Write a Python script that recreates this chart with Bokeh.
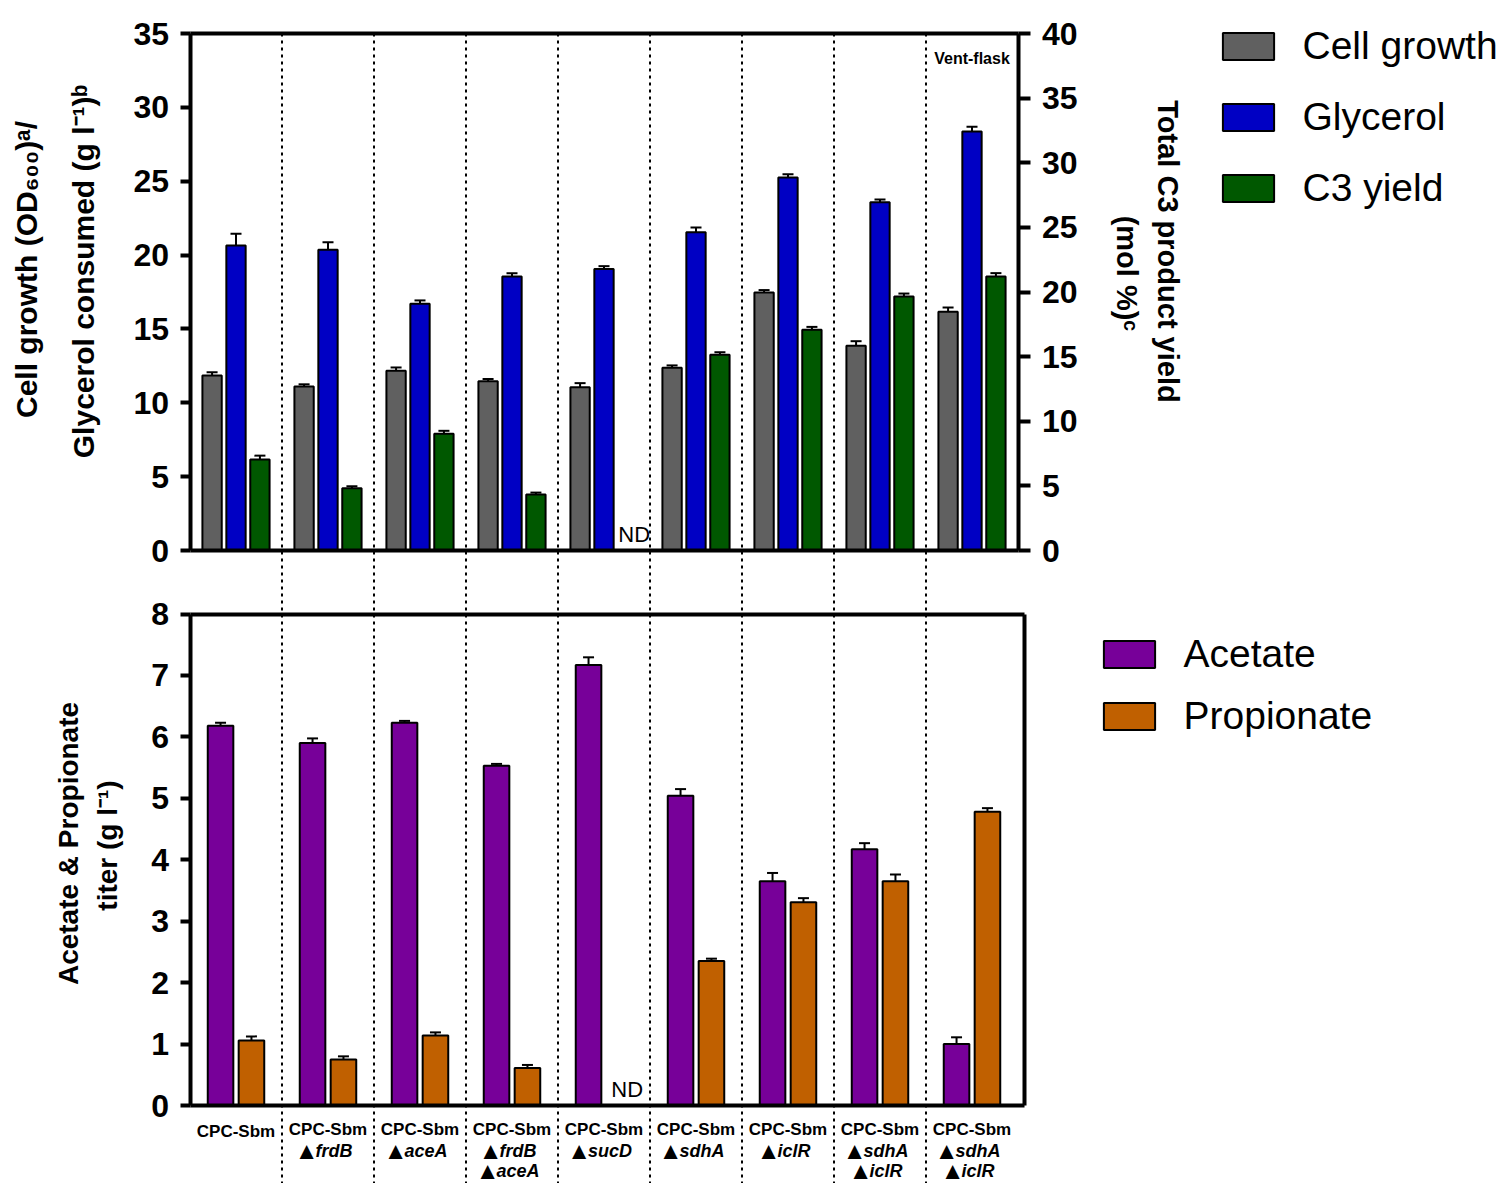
import math
from bokeh.plotting import figure
from bokeh.models import (Range1d, LinearAxis, Whisker, TeeHead, ColumnDataSource,
                          Legend, LegendItem, FixedTicker)
from bokeh.embed import file_html
from bokeh.resources import INLINE
from bokeh.core.properties import value

# ---------------- data ----------------
strain_base = ["CPC-Sbm"] * 9
strain_genes = [[], ["frdB"], ["aceA"], ["frdB", "aceA"], ["sucD"], ["sdhA"], ["iclR"],
                ["sdhA", "iclR"], ["sdhA", "iclR"]]

cell_growth = [11.85, 11.10, 12.17, 11.46, 11.06, 12.37, 17.47, 13.86, 16.16]
cell_growth_err = [0.22, 0.15, 0.22, 0.15, 0.27, 0.16, 0.16, 0.31, 0.29]
glycerol = [20.65, 20.36, 16.70, 18.55, 19.05, 21.55, 25.25, 23.58, 28.37]
glycerol_err = [0.79, 0.50, 0.23, 0.22, 0.20, 0.32, 0.22, 0.18, 0.32]
c3_yield = [7.04, 4.82, 9.03, 4.33, None, 15.14, 17.07, 19.65, 21.20]
c3_yield_err = [0.30, 0.15, 0.23, 0.15, None, 0.20, 0.23, 0.23, 0.26]

acetate = [6.18, 5.90, 6.23, 5.53, 7.17, 5.04, 3.65, 4.17, 1.00]
acetate_err = [0.05, 0.075, 0.03, 0.03, 0.125, 0.11, 0.135, 0.10, 0.11]
propionate = [1.06, 0.75, 1.14, 0.61, None, 2.35, 3.31, 3.65, 4.78]
propionate_err = [0.065, 0.05, 0.05, 0.05, None, 0.04, 0.065, 0.11, 0.06]

top_left_ticks = [0, 5, 10, 15, 20, 25, 30, 35]
top_right_ticks = [0, 5, 10, 15, 20, 25, 30, 35, 40]
bottom_ticks = [0, 1, 2, 3, 4, 5, 6, 7, 8]

top_left_title = ["Cell growth (OD\u2086\u2080\u2080)\u1d43/", "Glycerol consumed (g l\u207b\u00b9)\u1d47"]
top_right_title = ["Total C3 product yield", "(mol %)\u1d9c"]
bottom_title = ["Acetate & Propionate", "titer (g l\u207b\u00b9)"]

# ---------------- geometry / style ----------------
FONT = "Liberation Sans"
W, H = 1500, 1183
LEFT = 189.5                    # x pixel of the left axes
N = len(strain_base)
PPU = 92.0                      # pixels per strain group
XB = (1024 - LEFT) / PPU        # right edge of the lower box (data units)

TOP0, TOP35 = 550, 33           # pixel rows of 0 and 35 on the upper panel
BOT0, BOT8 = 1105, 613.5        # pixel rows of 0 and 8 on the lower panel
s_top = (TOP0 - TOP35) / 35
s_c3 = (TOP0 - TOP35) / 40
s_bot = (BOT0 - BOT8) / 8

C_GRAY = "#606060"
C_BLUE = "#0000C4"
C_GREEN = "#005800"
C_PURPLE = "#770099"
C_ORANGE = "#C06000"

p = figure(width=W, height=H,
           x_range=Range1d(-LEFT / PPU, (W - LEFT) / PPU),
           y_range=Range1d((TOP0 - H) / s_top, TOP0 / s_top),
           output_backend="svg", toolbar_location=None,
           x_axis_location=None, y_axis_location=None, min_border=0)
p.extra_y_ranges = {
    "c3": Range1d((TOP0 - H) / s_c3, TOP0 / s_c3),
    "bot": Range1d((BOT0 - H) / s_bot, BOT0 / s_bot),
    "px": Range1d(0, H),
}
p.extra_x_ranges = {"px": Range1d(0, W)}
p.outline_line_color = None
p.grid.visible = False
p.background_fill_color = None
p.border_fill_color = None


def vaxis(side, rng, loc, bounds, ticks, tick_out=10, standoff=11, labels=True):
    ax = LinearAxis(y_range_name=rng, fixed_location=loc, bounds=bounds,
                    ticker=FixedTicker(ticks=ticks))
    ax.axis_line_width = 4
    ax.axis_line_color = "black"
    ax.major_tick_line_width = 4
    ax.major_tick_line_color = "black"
    ax.major_tick_out = tick_out
    ax.major_tick_in = 0
    ax.minor_tick_line_color = None
    ax.major_label_standoff = standoff
    ax.major_label_text_font = FONT
    ax.major_label_text_font_size = "32px" if labels else "0px"
    ax.major_label_text_font_style = "bold"
    ax.major_label_text_color = "black"
    p.add_layout(ax, side)


def haxis(side, rng, loc, bounds):
    ax = LinearAxis(y_range_name=rng, fixed_location=loc, bounds=bounds,
                    ticker=FixedTicker(ticks=[]))
    ax.axis_line_width = 4
    ax.axis_line_color = "black"
    ax.major_tick_line_color = None
    ax.minor_tick_line_color = None
    ax.major_label_text_font_size = "0px"
    p.add_layout(ax, side)


def bar_source(vals, errs, offset):
    idx = [i for i, v in enumerate(vals) if v is not None]
    return ColumnDataSource(dict(
        x=[i + 0.5 + offset for i in idx],
        top=[vals[i] for i in idx],
        upper=[vals[i] + errs[i] for i in idx],
    ))


def whisker(src, rng):
    p.add_layout(Whisker(source=src, base="x", upper="upper", lower="top", dimension="height",
                         line_color="black", line_width=2, y_range_name=rng,
                         upper_head=TeeHead(size=11, line_width=2, line_color="black"),
                         lower_head=None))


def title(lines, xs, ys, angle, size):
    p.text(x=xs, y=[H - y for y in ys], text=lines, angle=angle, x_range_name="px",
           y_range_name="px", text_font=value(FONT), text_font_size=size,
           text_font_style="bold", text_align="center", text_baseline="middle",
           text_color="black")


# ---------------- dashed group dividers ----------------
bounds_x = list(range(1, N))
p.segment(x0=bounds_x, x1=bounds_x, y0=[35] * len(bounds_x),
          y1=[p.y_range.start] * len(bounds_x),
          line_color="black", line_width=2, line_dash="3 4")

# ---------------- upper panel ----------------
BW_T = 0.21
OFF_T = 0.26
src_cg = bar_source(cell_growth, cell_growth_err, -OFF_T)
src_gl = bar_source(glycerol, glycerol_err, 0.0)
src_c3 = bar_source(c3_yield, c3_yield_err, OFF_T)
r_cg = p.vbar(x="x", top="top", bottom=0, width=BW_T, source=src_cg,
              fill_color=C_GRAY, line_color="black", line_width=2)
r_gl = p.vbar(x="x", top="top", bottom=0, width=BW_T, source=src_gl,
              fill_color=C_BLUE, line_color="black", line_width=2)
r_c3 = p.vbar(x="x", top="top", bottom=0, width=BW_T, source=src_c3, y_range_name="c3",
              fill_color=C_GREEN, line_color="black", line_width=2)
whisker(src_cg, "default")
whisker(src_gl, "default")
whisker(src_c3, "c3")

vaxis("left", "default", 0, (0, 35), top_left_ticks)
vaxis("right", "c3", N, (0, 40), top_right_ticks, tick_out=12, standoff=12)
haxis("below", "default", 0, (0, N))
haxis("above", "default", 35, (0, N))

nd_top = [i + 0.5 + OFF_T - BW_T / 2 for i, v in enumerate(c3_yield) if v is None]
p.text(x=nd_top, y=[0.25] * len(nd_top), text=["ND"] * len(nd_top), y_range_name="c3",
       text_font=value(FONT), text_font_size="22px", text_align="left",
       text_baseline="bottom", text_color="black")
p.text(x=[N - 0.5], y=[33.3], text=["Vent-flask"], text_font=value(FONT),
       text_font_size="16px", text_font_style="bold", text_align="center",
       text_baseline="middle", text_color="black")

title(top_left_title, [26, 83], [269, 271], math.pi / 2, "30px")
title(top_right_title, [1167, 1126], [251, 273], -math.pi / 2, "29px")

# ---------------- lower panel ----------------
BW_B = 0.278
OFF_B = 0.168
src_ac = bar_source(acetate, acetate_err, -OFF_B)
src_pr = bar_source(propionate, propionate_err, OFF_B)
r_ac = p.vbar(x="x", top="top", bottom=0, width=BW_B, source=src_ac, y_range_name="bot",
              fill_color=C_PURPLE, line_color="black", line_width=2)
r_pr = p.vbar(x="x", top="top", bottom=0, width=BW_B, source=src_pr, y_range_name="bot",
              fill_color=C_ORANGE, line_color="black", line_width=2)
whisker(src_ac, "bot")
whisker(src_pr, "bot")

vaxis("left", "bot", 0, (0, 8), bottom_ticks)
vaxis("right", "bot", XB, (0, 8), [], labels=False)
haxis("below", "bot", 0, (0, XB))
haxis("above", "bot", 8, (0, XB))

nd_bot = [i + 0.5 + OFF_B - BW_B / 2 + 0.05 for i, v in enumerate(propionate) if v is None]
p.text(x=nd_bot, y=[0.05] * len(nd_bot), text=["ND"] * len(nd_bot), y_range_name="bot",
       text_font=value(FONT), text_font_size="22px", text_align="left",
       text_baseline="bottom", text_color="black")

title(bottom_title, [68, 107], [843, 845], math.pi / 2, "28px")

# ---------------- strain labels ----------------
EM = {"a": .556, "c": .556, "d": .611, "e": .556, "f": .333, "h": .611, "i": .278,
      "l": .278, "r": .389, "s": .556, "u": .611, "A": .722, "B": .722, "D": .722, "R": .722}
GENE_PX = 18
TRI_W = 15
TRI_GAP = -3
rows = [1129, 1150, 1170]
lx, ly, lt = [], [], []
tx, ty, gx, gy, gt = [], [], [], [], []
for i, (base, genes) in enumerate(zip(strain_base, strain_genes)):
    cpx = LEFT + (i + 0.5) * PPU
    lx.append(cpx)
    ly.append(H - rows[0] - (2 if not genes else 0))
    lt.append(base)
    for k, g in enumerate(genes):
        gw = sum(EM.get(ch, 0.6) for ch in g) * GENE_PX
        left = cpx - (TRI_W + TRI_GAP + gw) / 2
        yrow = H - rows[k + 1]
        tx.append(left + TRI_W)
        ty.append(yrow)
        gx.append(left + TRI_W + TRI_GAP)
        gy.append(yrow)
        gt.append(g)
p.text(x=lx, y=ly, text=lt, x_range_name="px", y_range_name="px", text_font=value(FONT),
       text_font_size="17px", text_font_style="bold", text_align="center",
       text_baseline="middle", text_color="black")
p.text(x=tx, y=ty, text=["\u25b2"] * len(tx), x_range_name="px", y_range_name="px",
       text_font=value(FONT), text_font_size="24px", text_align="right",
       text_baseline="middle", text_color="black")
p.text(x=gx, y=gy, text=gt, x_range_name="px", y_range_name="px", text_font=value(FONT),
       text_font_size="%dpx" % GENE_PX, text_font_style="bold italic", text_align="left",
       text_baseline="middle", text_color="black")

# ---------------- legends ----------------
def legend(items, loc, spacing):
    return Legend(items=items, location=loc, margin=0, padding=0, spacing=spacing,
                  glyph_width=64, glyph_height=34, label_standoff=23,
                  label_text_font=FONT, label_text_font_size="39px", label_text_color="black",
                  border_line_color=None, background_fill_color=None)


p.add_layout(legend([LegendItem(label="Cell growth", renderers=[r_cg]),
                     LegendItem(label="Glycerol", renderers=[r_gl]),
                     LegendItem(label="C3 yield", renderers=[r_c3])],
                    (1215.5, H - 210), 27))
p.add_layout(legend([LegendItem(label="Acetate", renderers=[r_ac]),
                     LegendItem(label="Propionate", renderers=[r_pr])],
                    (1096.5, H - 737.5), 18))

open("out.html", "w").write(file_html(p, INLINE))
